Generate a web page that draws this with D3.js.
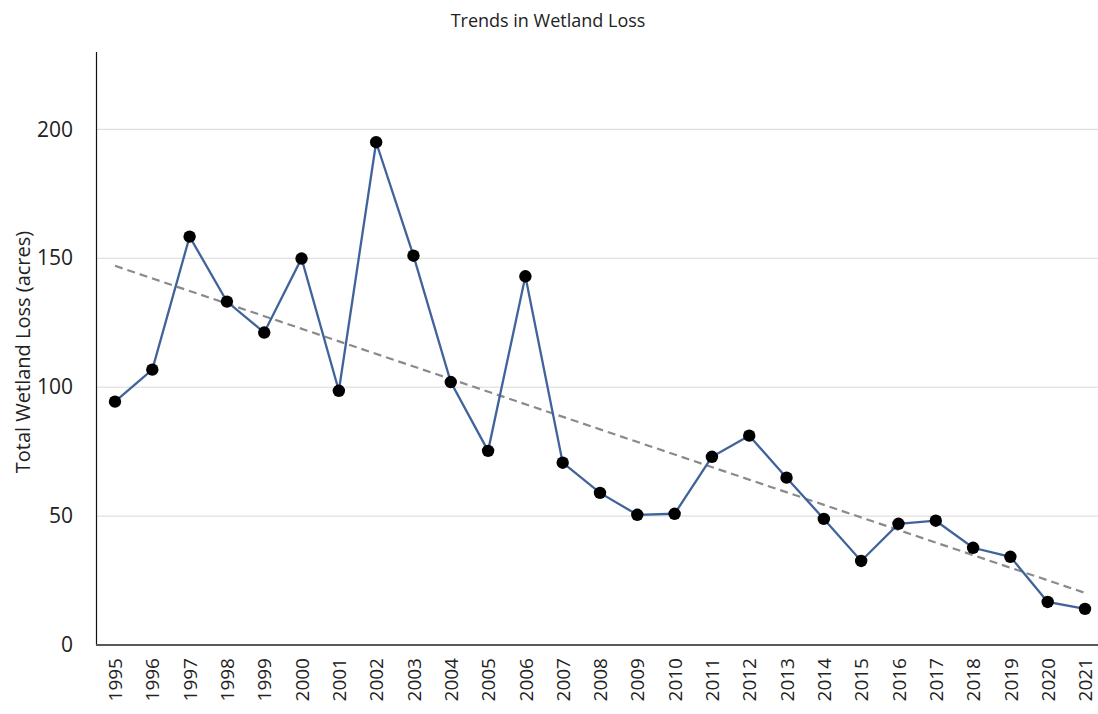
<!DOCTYPE html>
<html>
<head>
<meta charset="utf-8">
<script src="https://cdn.jsdelivr.net/npm/d3@7"></script>
<style>
  html, body { margin: 0; padding: 0; background: #fff; }
  svg text { font-family: "Open Sans", "Noto Sans", sans-serif; fill: #222; }
</style>
</head>
<body>
<svg id="chart" width="1098" height="714"></svg>
<script>
// Wetland loss per year, in acres
const years = [1995, 1996, 1997, 1998, 1999, 2000, 2001, 2002, 2003, 2004, 2005, 2006, 2007,
  2008, 2009, 2010, 2011, 2012, 2013, 2014, 2015, 2016, 2017, 2018, 2019, 2020, 2021];
const loss = [94.4, 106.8, 158.4, 133.2, 121.2, 149.9, 98.6, 195.0, 151.0, 102.0, 75.3, 143.0, 70.7,
  59.0, 50.5, 50.9, 73.0, 81.2, 64.9, 48.9, 32.6, 47.0, 48.2, 37.7, 34.2, 16.7, 14.0];
const yTicks = [0, 50, 100, 150, 200];

const svg = d3.select("#chart");
const plot = { left: 96, right: 1098, top: 52, bottom: 645 };

const x = d3.scalePoint().domain(years).range([115, 1085]);
const y = d3.scaleLinear().domain([0, 230]).range([plot.bottom, plot.top]);

// Title
svg.append("text")
  .attr("x", 548).attr("y", 27)
  .attr("text-anchor", "middle")
  .style("font-size", "18px")
  .text("Trends in Wetland Loss");

// Horizontal gridlines
svg.append("g")
  .selectAll("line")
  .data(yTicks.filter(d => d > 0))
  .join("line")
  .attr("x1", plot.left).attr("x2", plot.right)
  .attr("y1", d => y(d)).attr("y2", d => y(d))
  .attr("stroke", "#d9d9d9").attr("stroke-width", 1);

// Y axis
const yAxis = svg.append("g")
  .attr("transform", `translate(${plot.left},0)`)
  .call(d3.axisLeft(y).tickValues(yTicks).tickSize(0).tickPadding(23));
yAxis.select(".domain").remove();
yAxis.selectAll("text").style("font-size", "21px").attr("fill", "#222");
svg.append("line")
  .attr("x1", plot.left + 0.5).attr("x2", plot.left + 0.5)
  .attr("y1", plot.top).attr("y2", plot.bottom)
  .attr("stroke", "#111").attr("stroke-width", 1.2);

// Y axis title
svg.append("text")
  .attr("transform", "translate(30,352) rotate(-90)")
  .attr("text-anchor", "middle")
  .style("font-size", "20px")
  .text("Total Wetland Loss (acres)");

// X axis
const xAxis = svg.append("g")
  .attr("transform", `translate(0,${plot.bottom})`)
  .call(d3.axisBottom(x).tickSize(0).tickPadding(0));
xAxis.select(".domain").remove();
xAxis.selectAll("text")
  .style("font-size", "19px")
  .attr("fill", "#222")
  .attr("transform", "rotate(-90)")
  .attr("text-anchor", "end")
  .attr("dy", "0.35em")
  .attr("x", -13)
  .attr("y", 0);
svg.append("line")
  .attr("x1", plot.left).attr("x2", plot.right)
  .attr("y1", plot.bottom).attr("y2", plot.bottom)
  .attr("stroke", "#595959").attr("stroke-width", 2);

// Linear trendline (least squares)
const n = years.length;
const mx = d3.mean(years), my = d3.mean(loss);
const slope = d3.sum(years, (d, i) => (d - mx) * (loss[i] - my)) / d3.sum(years, d => (d - mx) ** 2);
const intercept = my - slope * mx;
const trend = [years[0], years[n - 1]].map(d => ({ year: d, value: intercept + slope * d }));

svg.append("path")
  .datum(trend)
  .attr("fill", "none")
  .attr("stroke", "#8a8a8a")
  .attr("stroke-width", 2.2)
  .attr("stroke-dasharray", "8,5")
  .attr("d", d3.line().x(d => x(d.year)).y(d => y(d.value)));

// Data line
const pts = years.map((d, i) => ({ year: d, value: loss[i] }));
svg.append("path")
  .datum(pts)
  .attr("fill", "none")
  .attr("stroke", "#41639b")
  .attr("stroke-width", 2.3)
  .attr("d", d3.line().x(d => x(d.year)).y(d => y(d.value)));

// Markers
svg.append("g")
  .selectAll("circle")
  .data(pts)
  .join("circle")
  .attr("cx", d => x(d.year))
  .attr("cy", d => y(d.value))
  .attr("r", 6.2)
  .attr("fill", "#000");
</script>
</body>
</html>
